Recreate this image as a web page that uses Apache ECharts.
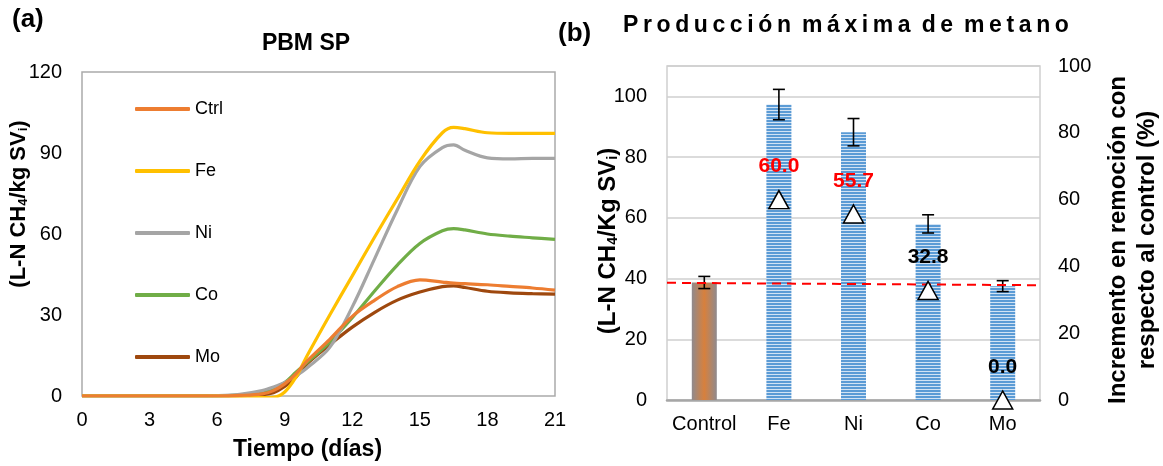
<!DOCTYPE html>
<html><head><meta charset="utf-8">
<script src="https://cdn.jsdelivr.net/npm/echarts@6/dist/echarts.min.js"></script>
<style>html,body{margin:0;padding:0;background:#fff}#c{width:1163px;height:466px}</style>
</head><body><div id="c"></div>
<script>
// ---- Panel (a) data ----
var dias = [0,1,2,3,4,5,6,7,8,8.5,9,9.5,10,11,12,13,14,15,16,16.5,17,18,19,20,21];
var ctrl = [0,0,0,0,0,0,0,0.2,0.8,2,4.5,8.2,13,21,29.5,35.5,40.5,43,42.2,41.8,41.6,41.2,40.6,40,39.2];
var fe   = [0,0,0,0,0,0,0,-0.2,-0.6,-0.5,1.5,7,15,30,44.5,59,73,87,97.5,99.5,99,97.5,97.3,97.3,97.3];
var ni   = [0,0,0,0,0,0,0.1,0.6,2,3.3,5,7.5,10.5,18,33,51,69,85,92,93,91,88.2,87.8,88,88];
var co   = [0,0,0,0,0,0,0,0.4,1.5,2.8,5,8.8,12.5,20,29,39,48.5,56.5,61.2,62,61.5,60,59.2,58.6,58];
var mo   = [0,0,0,0,0,0,0,0.1,0.5,1.2,3.5,7,12,19,25.5,31,35.5,38.5,40.5,40.8,40.2,38.8,38.2,37.9,37.7];
var seriesNames = ['Ctrl','Fe','Ni','Co','Mo'];
var seriesData = [ctrl, fe, ni, co, mo];
var seriesColors = ['#ED7D31','#FFC000','#A5A5A5','#70AD47','#9E480E'];

// ---- Panel (b) data ----
var categorias = ['Control','Fe','Ni','Co','Mo'];
var produccion = [38.7, 97.3, 88.2, 58.0, 37.5];
var errorProd  = [2.0, 5.0, 4.5, 3.0, 1.8];
var incremento = ['-', 60.0, 55.7, 32.8, 0.0];
var incColor   = ['#000','#FF0000','#FF0000','#000','#000'];
var lineaRefX  = [-0.5, 4.5];
var lineaRefY  = [38.6, 37.8];

// stripe pattern
var pc = document.createElement('canvas'); pc.width = 4; pc.height = 3;
var pctx = pc.getContext('2d');
pctx.fillStyle = '#5B9BD5'; pctx.fillRect(0,0,4,2);
pctx.fillStyle = '#D2E3F4'; pctx.fillRect(0,2,4,1);

var FONT = 'Liberation Sans, Arial, sans-serif';
var chart = echarts.init(document.getElementById('c'));

// letter-spaced title (thin spaces between letters)
var tituloB = 'Producción máxima de metano';
var tituloEspaciado = tituloB.split(' ').map(function(w){ return w.split('').join('\u2009'); }).join('\u2009 ');

var lineSeries = seriesNames.map(function(n, k){
  return {
    name: n, type: 'line', xAxisIndex: 0, yAxisIndex: 0,
    data: dias.map(function(d,i){ return [d, seriesData[k][i]]; }),
    smooth: 0.35, showSymbol: false, symbol: 'none',
    lineStyle: {color: seriesColors[k], width: 3.2},
    itemStyle: {color: seriesColors[k]}, z: 10 - k
  };
});

function subRich(fs){ return {s: {fontSize: fs, fontWeight: 'bold', color: '#000', fontFamily: FONT, padding: [10,0,0,0]}}; }

var option = {
  animation: false,
  textStyle: {fontFamily: FONT},
  title: [
    {text: '(a)', left: 7, top: 2, textStyle: {fontSize: 26, fontWeight: 'bold', color: '#000', fontFamily: FONT}},
    {text: 'PBM SP', left: 301, top: 27, textAlign: 'center', textStyle: {fontSize: 23, fontWeight: 'bold', color: '#000', fontFamily: FONT}},
    {text: '(b)', left: 553, top: 16, textStyle: {fontSize: 26, fontWeight: 'bold', color: '#000', fontFamily: FONT}},
    {text: tituloEspaciado, left: 618, top: 9, textStyle: {fontSize: 23, fontWeight: 'bold', color: '#000', fontFamily: FONT}}
  ],
  legend: {
    data: seriesNames, orient: 'vertical', left: 130, top: 95,
    itemWidth: 55, itemHeight: 4, itemGap: 44, icon: 'roundRect',
    textStyle: {fontSize: 18, color: '#000', fontFamily: FONT}
  },
  grid: [
    {left: 82, right: 608, top: 72, bottom: 70, show: true, borderColor: '#ABABAB', borderWidth: 1.5},
    {left: 667, right: 119, top: 66, bottom: 66, show: true, borderColor: '#CFCFCF', borderWidth: 1.5}
  ],
  xAxis: [
    {type: 'value', gridIndex: 0, min: 0, max: 21, interval: 3,
     axisLine: {show: false}, axisTick: {show: false}, splitLine: {show: false},
     axisLabel: {fontSize: 20, color: '#000', margin: 14},
     name: 'Tiempo (días)', nameLocation: 'middle', nameGap: 42,
     nameTextStyle: {fontSize: 23, fontWeight: 'bold', color: '#000', padding: [0,22,0,0]}},
    {type: 'category', gridIndex: 1, data: categorias,
     axisLine: {show: true, lineStyle: {color: '#A6A6A6', width: 2.5}}, axisTick: {show: false},
     axisLabel: {fontSize: 20, color: '#000', margin: 14, interval: 0}},
    {type: 'value', gridIndex: 1, min: -0.5, max: 4.5, show: false}
  ],
  yAxis: [
    {type: 'value', gridIndex: 0, min: 0, max: 120, interval: 30,
     axisLine: {show: false}, axisTick: {show: false}, splitLine: {show: false},
     axisLabel: {fontSize: 20, color: '#000', margin: 20},
     name: '(L-N CH{s|4}/kg SV{s|i})', nameLocation: 'middle', nameGap: 52, nameRotate: 90, nameMoveOverlap: false,
     nameTextStyle: {fontSize: 22, fontWeight: 'bold', color: '#000', padding: [0,0,0,60], rich: subRich(13)}},
    {type: 'value', gridIndex: 1, min: 0, max: 110, interval: 20,
     axisLine: {show: false}, axisTick: {show: false},
     splitLine: {show: true, lineStyle: {color: '#CFCFCF', width: 1.5}},
     axisLabel: {fontSize: 20, color: '#000', margin: 20, showMaxLabel: false},
     name: '(L-N CH{s|4}/Kg SV{s|i})', nameLocation: 'middle', nameGap: 47, nameRotate: 90, nameMoveOverlap: false,
     nameTextStyle: {fontSize: 24, fontWeight: 'bold', color: '#000', padding: [0,16,0,0], rich: subRich(14)}},
    {type: 'value', gridIndex: 1, min: 0, max: 100, interval: 20, position: 'right',
     axisLine: {show: false}, axisTick: {show: false}, splitLine: {show: false},
     axisLabel: {fontSize: 20, color: '#000', margin: 18},
     name: 'Incremento en remoción con\nrespecto al control (%)', nameLocation: 'middle', nameGap: 64, nameRotate: 90,
     nameTextStyle: {fontSize: 24, fontWeight: 'bold', color: '#000', lineHeight: 29, padding: [0,14,0,0]}}
  ],
  series: lineSeries.concat([
    {type: 'bar', xAxisIndex: 1, yAxisIndex: 1, barWidth: 25,
     data: produccion.map(function(v,i){
       return {value: v, itemStyle: i === 0 ? {color: new echarts.graphic.LinearGradient(0,0,1,0,[
         {offset: 0, color: '#8F8A8E'}, {offset: 0.5, color: '#D8803C'}, {offset: 1, color: '#8F8A8E'}])}
         : {color: {image: pc, repeat: 'repeat'}}};
     }), z: 2},
    {type: 'custom', xAxisIndex: 1, yAxisIndex: 1, z: 5,
     data: produccion.map(function(v,i){ return [i, v - errorProd[i], v + errorProd[i]]; }),
     renderItem: function(params, api){
       var lo = api.coord([api.value(0), api.value(1)]);
       var hi = api.coord([api.value(0), api.value(2)]);
       var w = 6, st = {stroke: '#000', lineWidth: 1.6};
       return {type: 'group', children: [
         {type: 'line', shape: {x1: hi[0], y1: hi[1], x2: lo[0], y2: lo[1]}, style: st},
         {type: 'line', shape: {x1: hi[0]-w, y1: hi[1], x2: hi[0]+w, y2: hi[1]}, style: st},
         {type: 'line', shape: {x1: lo[0]-w, y1: lo[1], x2: lo[0]+w, y2: lo[1]}, style: st}
       ]};
     }},
    {type: 'line', xAxisIndex: 2, yAxisIndex: 1, z: 6, symbol: 'none',
     data: lineaRefX.map(function(x,i){ return [x, lineaRefY[i]]; }),
     lineStyle: {color: '#FF0000', width: 2, type: [9,6]}},
    {type: 'scatter', xAxisIndex: 1, yAxisIndex: 2, z: 8, symbol: 'triangle', symbolSize: [20,18],
     itemStyle: {color: '#fff', borderColor: '#000', borderWidth: 1.5, opacity: 1},
     data: incremento.map(function(v,i){
       return {value: v, label: {show: v !== '-', position: 'top', distance: 13,
         formatter: function(p){ return Number(p.value).toFixed(1); },
         fontSize: 21, fontWeight: 'bold', color: incColor[i], fontFamily: FONT}};
     })}
  ])
};
chart.setOption(option);
</script></body></html>
